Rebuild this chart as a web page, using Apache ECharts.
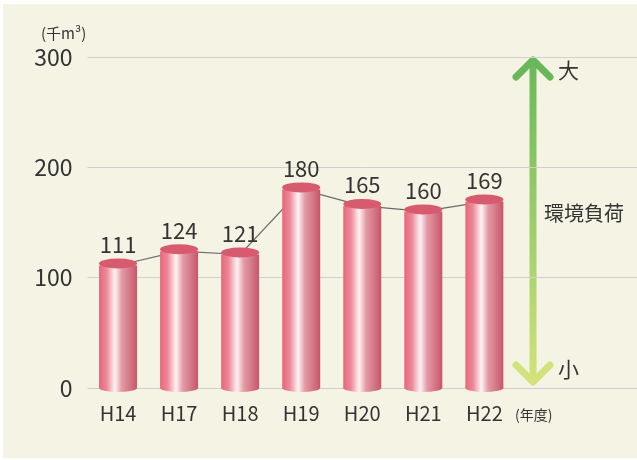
<!DOCTYPE html>
<html>
<head>
<meta charset="utf-8">
<script src="https://cdn.jsdelivr.net/npm/echarts@6/dist/echarts.min.js"></script>
<style>
  html, body { margin: 0; padding: 0; background: #fff; }
  #wrap { position: relative; width: 637px; height: 460px; }
  #bg { position: absolute; left: 3px; top: 4px; right: 0; bottom: 2px; background: #f5f3e4; }
  #main { position: absolute; left: 0; top: 0; width: 637px; height: 460px; }
</style>
</head>
<body>
<div id="wrap">
  <div id="bg"></div>
  <div id="main"></div>
</div>
<script>
(function(){
  // 年度と値
  var years = ['H14', 'H17', 'H18', 'H19', 'H20', 'H21', 'H22'];
  var values = [111, 124, 121, 180, 165, 160, 169];
  var yTicks = [0, 100, 200, 300];
  // 右側の矢印スペース用の空カテゴリ
  var padCats = ['', ''];

  var font = '"Noto Sans CJK JP", "Noto Sans", sans-serif';
  var barW = 38;

  var barGrad = new echarts.graphic.LinearGradient(0, 0, 1, 0, [
    { offset: 0, color: '#e8667a' },
    { offset: 0.2, color: '#ec8998' },
    { offset: 0.42, color: '#fff3f4' },
    { offset: 0.6, color: '#e39aa5' },
    { offset: 1, color: '#c7566a' }
  ]);

  var myChart = echarts.init(document.getElementById('main'));

  var option = {
    backgroundColor: 'transparent',
    animation: false,
    grid: { left: 87.5, right: 0, top: 57, bottom: 72, containLabel: false },
    xAxis: {
      type: 'category',
      data: years.concat(padCats),
      axisLine: { show: false },
      axisTick: { show: false },
      axisLabel: { color: '#333', fontSize: 20, fontFamily: font, margin: 15 }
    },
    yAxis: {
      type: 'value',
      min: yTicks[0],
      max: yTicks[yTicks.length - 1],
      interval: 100,
      axisLine: { show: false },
      axisTick: { show: false },
      axisLabel: { color: '#333', fontSize: 23, fontFamily: font, margin: 15 },
      splitLine: { lineStyle: { color: '#cfcfcf', width: 1 } }
    },
    series: [
      {
        // 棒の上端をつなぐ線
        type: 'line',
        data: values,
        symbol: 'none',
        z: 1,
        lineStyle: { color: '#6b6b6b', width: 1.2 }
      },
      {
        type: 'bar',
        data: values,
        barWidth: barW,
        z: 2,
        itemStyle: { color: barGrad },
        label: {
          show: true, position: 'top', distance: 10,
          color: '#333', fontSize: 22, fontFamily: font
        }
      },
      {
        // 底の丸み
        type: 'pictorialBar',
        data: values,
        symbol: 'circle',
        symbolPosition: 'start',
        symbolSize: [barW, 8],
        symbolOffset: [0, 4],
        z: 3,
        itemStyle: { color: barGrad }
      },
      {
        // 上面の楕円
        type: 'pictorialBar',
        data: values,
        symbol: 'circle',
        symbolPosition: 'end',
        symbolSize: [barW, 10],
        symbolOffset: [0, -7],
        z: 4,
        itemStyle: { color: '#d85a6e' }
      }
    ],
    graphic: [
      { type: 'text', left: 41, top: 26, style: { text: '(千m³)', fill: '#333', font: '15px ' + font } },
      { type: 'text', left: 515, top: 408, style: { text: '(年度)', fill: '#333', font: '14px ' + font } },
      {
        type: 'line', shape: { x1: 533, y1: 61, x2: 533, y2: 381 },
        style: {
          lineWidth: 7, lineCap: 'round',
          stroke: new echarts.graphic.LinearGradient(0, 0, 0, 1, [
            { offset: 0, color: '#68b85a' }, { offset: 1, color: '#d2e27c' }
          ])
        }
      },
      {
        type: 'polyline', shape: { points: [[516, 77], [533, 60], [550, 77]] },
        style: { stroke: '#68b85a', lineWidth: 7, lineCap: 'round', lineJoin: 'round', fill: null }
      },
      {
        type: 'polyline', shape: { points: [[516, 365], [533, 382], [550, 365]] },
        style: { stroke: '#d2e27c', lineWidth: 7, lineCap: 'round', lineJoin: 'round', fill: null }
      },
      { type: 'text', left: 558, top: 60, style: { text: '大', fill: '#333', font: '21px ' + font } },
      { type: 'text', left: 558, top: 359, style: { text: '小', fill: '#333', font: '21px ' + font } },
      { type: 'text', left: 544, top: 203, style: { text: '環境負荷', fill: '#333', font: '20px ' + font } }
    ]
  };

  myChart.setOption(option);

  window.addEventListener('resize', function() {
    myChart.resize();
  });
})();
</script>
</body>
</html>
